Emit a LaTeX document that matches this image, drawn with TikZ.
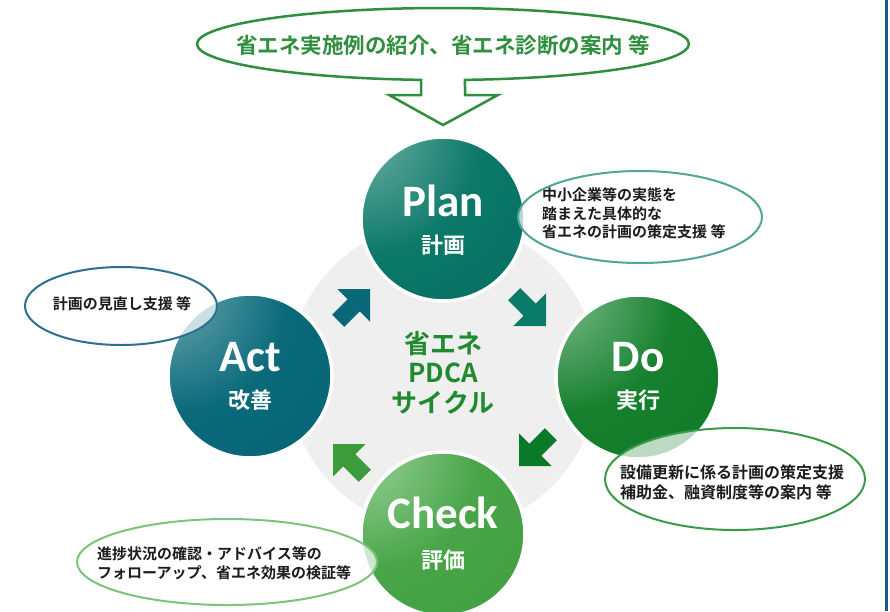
\documentclass[tikz,border=0pt]{standalone}
\usepackage{fontspec}
\newfontfamily\jp{Noto Sans CJK JP}[UprightFont={* Bold}, BoldFont={* Black}]
\newfontfamily\lat{Carlito}
\usetikzlibrary{shapes.geometric}
\definecolor{PlanL}{HTML}{7DB9AF}
\definecolor{PlanB}{HTML}{0B7868}
\definecolor{PlanD}{HTML}{00675A}
\definecolor{ActL}{HTML}{7CB0B9}
\definecolor{ActB}{HTML}{0A6A7A}
\definecolor{ActD}{HTML}{005E6F}
\definecolor{DoL}{HTML}{8EC59B}
\definecolor{DoB}{HTML}{16802E}
\definecolor{DoD}{HTML}{057222}
\definecolor{CheckL}{HTML}{A8D8A8}
\definecolor{CheckB}{HTML}{48A548}
\definecolor{CheckD}{HTML}{3A9A3A}
\definecolor{RingGray}{HTML}{EFEFEF}
\definecolor{TopG}{HTML}{2F8F3F}
\definecolor{MidG}{HTML}{1F8A2E}
\definecolor{ArrA}{HTML}{0A6878}
\definecolor{ArrP}{HTML}{0A7A68}
\definecolor{ArrD}{HTML}{0A7A28}
\definecolor{ArrC}{HTML}{3C9C3C}
\definecolor{CPlan}{HTML}{4EA698}
\definecolor{CAct}{HTML}{2E6F8E}
\definecolor{CDo}{HTML}{3B9A4A}
\definecolor{CCheck}{HTML}{7CC47C}
\definecolor{TxtDark}{HTML}{1C1C1C}
\definecolor{EdgeBlue}{HTML}{1B5A8E}
\pgfdeclareradialshading{plansh}{\pgfpoint{-30bp}{30bp}}{color(0bp)=(PlanL); color(32bp)=(PlanB); color(80bp)=(PlanD); color(110bp)=(PlanD)}
\pgfdeclareradialshading{actsh}{\pgfpoint{-30bp}{30bp}}{color(0bp)=(ActL); color(32bp)=(ActB); color(80bp)=(ActD); color(110bp)=(ActD)}
\pgfdeclareradialshading{dosh}{\pgfpoint{-30bp}{30bp}}{color(0bp)=(DoL); color(32bp)=(DoB); color(80bp)=(DoD); color(110bp)=(DoD)}
\pgfdeclareradialshading{checksh}{\pgfpoint{-30bp}{30bp}}{color(0bp)=(CheckL); color(32bp)=(CheckB); color(80bp)=(CheckD); color(110bp)=(CheckD)}
\tikzset{
  phase/.style={circle, minimum size=164pt, inner sep=0pt, shade, draw=white, line width=3.5pt},
  bigl/.style={font=\lat\bfseries\fontsize{45}{45}\selectfont, text=white, inner sep=0pt},
  subl/.style={font=\jp\fontsize{22}{22}\selectfont, text=white, inner sep=0pt},
  callout/.style={ellipse, fill=white, fill opacity=0.72, draw opacity=1, line width=2pt, inner sep=0pt},
  ctext/.style={font=\jp\fontsize{15}{18.5}\selectfont, text=TxtDark, align=left, inner sep=0pt},
  blockarr/.style={line join=miter}
}
\newcommand\blockarrowat[3]{\fill[blockarr, #1, shift={#2}, rotate=#3] (0,0) -- (-23,-23) -- (-23,-8.5) -- (-45,-8.5) -- (-45,8.5) -- (-23,8.5) -- (-23,23) -- cycle;}
\begin{document}
\begin{tikzpicture}[x=1pt,y=-1pt]
\useasboundingbox (0,0) rectangle (890,611);
\fill[white] (0,0) rectangle (890,611);
\clip (0,0) rectangle (890,611);
% grey ring
\node[circle, fill=RingGray, minimum size=310pt, inner sep=0pt] (ring) at (443,376) {};
% phase circles
\node[phase, shading=plansh] (plan) at (443,219) {};
\node[phase, shading=actsh] (act) at (250,376) {};
\node[phase, shading=dosh] (do) at (638,377) {};
\node[phase, shading=checksh] (check) at (443,534) {};
% block arrows
\blockarrowat{ArrA}{(370,289)}{45}
\blockarrowat{ArrP}{(546,326)}{-45}
\blockarrowat{ArrD}{(519,466)}{-135}
\blockarrowat{ArrC}{(333,444)}{135}
% callouts
\node[callout, draw=CPlan, minimum width=244pt, minimum height=92pt] (planC) at (640,217) {};
\node[callout, draw=CAct, minimum width=192pt, minimum height=78pt] (actC) at (121,306) {};
\node[callout, draw=CDo, minimum width=260pt, minimum height=102pt] (doC) at (735,479) {};
\node[callout, draw=CCheck, minimum width=300pt, minimum height=86pt] (checkC) at (227,562) {};
% labels in circles
\node[bigl] (planL) at (443,201) {Plan};
\node[subl] (planJ) at (443,245) {計画};
\node[bigl] (actL) at (250,357) {Act};
\node[subl] (actJ) at (250,400) {改善};
\node[bigl] (doL) at (638,357) {Do};
\node[subl] (doJ) at (638,400) {実行};
\node[bigl] (checkL) at (443,513) {Check};
\node[subl] (checkJ) at (443,560) {評価};
% centre text
\node[font=\jp\fontsize{26}{29.5}\selectfont, text=MidG, align=center, inner sep=0pt] (mid) at (443,372.5) {省エネ\\PDCA\\サイクル};
% callout texts
\node[ctext, anchor=west] (planT) at (542,213.5) {中小企業等の実態を\\踏まえた具体的な\\省エネの計画の策定支援 等};
\node[ctext] (actT) at (122,304) {計画の見直し支援 等};
\node[ctext, font=\jp\fontsize{16}{20}\selectfont, anchor=west] (doT) at (620,482) {設備更新に係る計画の策定支援\\補助金、融資制度等の案内 等};
\node[ctext, font=\jp\fontsize{15}{19}\selectfont, anchor=west] (checkT) at (97,563.5) {進捗状況の確認・アドバイス等の\\フォローアップ、省エネ効果の検証等};
% top speech ellipse with down arrow
\draw[TopG, line width=2.5pt, fill=white, line join=miter]
  (421,95) -- (421,79.86) arc[start angle=95.13, end angle=444.87, x radius=246, y radius=36]
  -- (465,95) -- (498,95) -- (443,125) -- (389,95) -- cycle;
\node[font=\jp\fontsize{21.5}{21.5}\selectfont, text=TopG, inner sep=0pt] (topT) at (443,45) {省エネ実施例の紹介、省エネ診断の案内 等};
% right edge line
\coordinate (edgeTop) at (886.5,0);
\coordinate (edgeBot) at (886.5,611);
\draw[EdgeBlue, line width=3pt] (edgeTop) -- (edgeBot);
\end{tikzpicture}
\end{document}
